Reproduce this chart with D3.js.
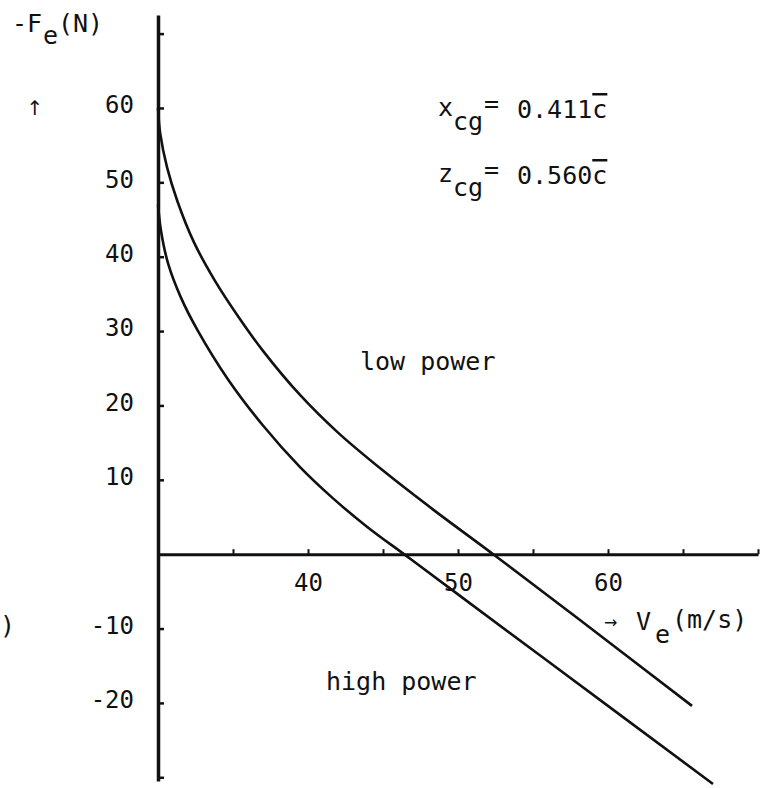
<!DOCTYPE html>
<html>
<head>
<meta charset="utf-8">
<script src="https://cdn.jsdelivr.net/npm/d3@7"></script>
<style>
  body { margin: 0; background: #fff; }
  text { font-family: "DejaVu Sans Mono", monospace; fill: #111; }
  .axis path, .axis line { stroke: #111; }
  .axis text { font-family: "DejaVu Sans Mono", monospace; font-size: 24px; fill: #111; }
</style>
</head>
<body>
<div id="chart"></div>
<script>
// speed (m/s) and stick force -Fe (N)
const lowPowerV = [30, 30.15, 30.6, 31.3, 32.4, 33.8, 35.3, 37, 39.5, 42, 45, 48.3, 52.5, 58, 65.6]
const lowPowerF = [60, 56.55, 52.05, 47.43, 41.93, 36.75, 32.1, 27.34, 21.34, 16.34, 11.24, 6.06, -0.24, -8.66, -20.4]
const highPowerV = [30, 30.2, 30.67, 31.53, 32.67, 34.67, 37, 39.47, 41.67, 43.93, 46.6, 50, 55.93, 67]
const highPowerF = [47, 43.5, 39.1, 34.5, 30.0, 23.5, 17.3, 11.7, 7.5, 3.7, -0.3, -5.4, -14.3, -30.9]

const xTicks = [35, 40, 45, 50, 55, 60, 65, 70]
const xTickLabels = [40, 50, 60]
const yTicks = [70, 60, 50, 40, 30, 20, 10, -10, -20, -30]
const yTickLabels = [60, 50, 40, 30, 20, 10, -10, -20]

const width = 763, height = 788

const svg = d3.select('#chart').append('svg')
  .attr('width', width)
  .attr('height', height)

const x = d3.scaleLinear().domain([30, 70]).range([158, 758])
const y = d3.scaleLinear().domain([-30.5, 72.5]).range([781, 15])

// y axis, ticks pointing right, labels on the left
const yAxis = svg.append('g')
  .attr('class', 'axis')
  .attr('transform', `translate(${x(30)},0)`)
  .call(d3.axisLeft(y)
    .tickValues(yTicks)
    .tickSizeInner(-6)
    .tickSizeOuter(0)
    .tickPadding(24)
    .tickFormat(d => yTickLabels.includes(d) ? String(d) : ''))
yAxis.select('.domain').attr('stroke-width', 3.5)
yAxis.selectAll('.tick line').attr('stroke-width', 2.5)
yAxis.selectAll('.tick text').attr('dy', '0.2em')

// x axis along F = 0, ticks pointing up
const xAxis = svg.append('g')
  .attr('class', 'axis')
  .attr('transform', `translate(0,${y(0)})`)
  .call(d3.axisBottom(x)
    .tickValues(xTicks)
    .tickSizeInner(-5)
    .tickSizeOuter(0)
    .tickPadding(20)
    .tickFormat(d => xTickLabels.includes(d) ? String(d) : ''))
xAxis.select('.domain').attr('stroke-width', 3)
xAxis.selectAll('.tick line').attr('stroke-width', 2)

const line = d3.line()
  .x(d => x(d[0]))
  .y(d => y(d[1]))
  .curve(d3.curveCatmullRom.alpha(0.5))

svg.append('path')
  .datum(d3.zip(lowPowerV, lowPowerF))
  .attr('fill', 'none')
  .attr('stroke', '#111')
  .attr('stroke-width', 2.6)
  .attr('d', line)

svg.append('path')
  .datum(d3.zip(highPowerV, highPowerF))
  .attr('fill', 'none')
  .attr('stroke', '#111')
  .attr('stroke-width', 2.6)
  .attr('d', line)

// labels
const fs = 25
const label = (txt, lx, ly, size) => svg.append('text')
  .attr('x', lx).attr('y', ly)
  .style('font-size', (size || fs) + 'px')
  .text(txt)

// y axis title  -Fe(N)
label('-F', 12, 32)
label('e', 43, 44)
label('(N)', 58, 32)
svg.append('text').attr('x', 35).attr('y', 115)
  .attr('text-anchor', 'middle')
  .style('font-size', '20px')
  .style('font-family', 'DejaVu Sans')
  .text('\u2191')

// x axis title  -> Ve(m/s)
svg.append('text').attr('x', 604).attr('y', 628)
  .style('font-size', '16px')
  .style('font-family', 'DejaVu Sans')
  .text('\u2192')
label('V', 636, 630)
label('e', 655, 643)
label('(m/s)', 672, 628)

// stray bracket at the left edge of the scan
label(')', 0, 634)

// centre of gravity notes
const cgNote = (sym, val, base) => {
  label(sym, 438, base)
  label('cg', 453, base + 14)
  label('=', 484, base - 4)
  const t = svg.append('text').attr('x', 517).attr('y', base + 2)
    .style('font-size', fs + 'px')
  t.append('tspan').text(val)
  t.append('tspan').style('text-decoration', 'overline').text('c')
}
cgNote('x', '0.411', 116)
cgNote('z', '0.560', 182)

label('low power', 360, 370)
label('high power', 326, 690)
</script>
</body>
</html>
